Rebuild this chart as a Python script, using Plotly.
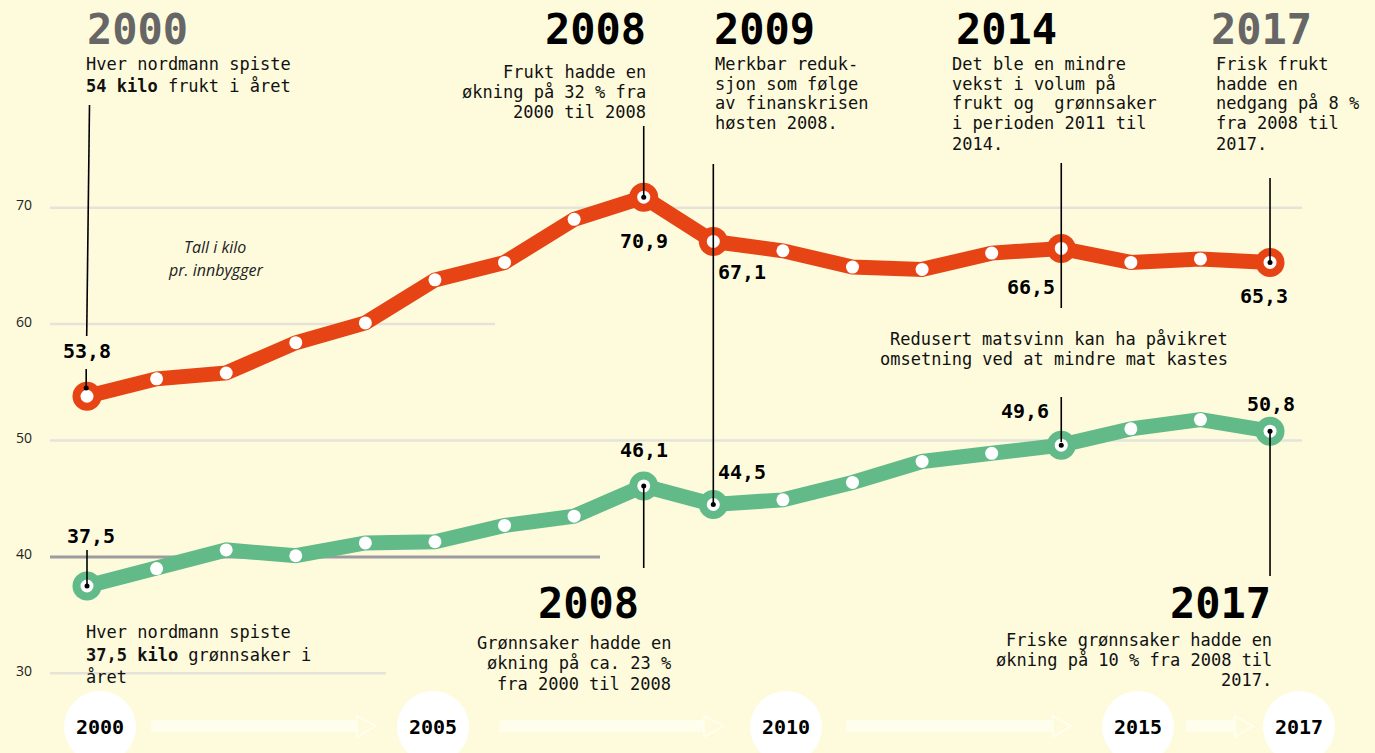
import plotly.graph_objects as go

# ---------------- DATA ----------------
years = list(range(2000, 2018))
frukt = [53.8, 55.3, 55.8, 58.4, 60.1, 63.8, 65.3, 69.0, 70.9, 67.1,
         66.3, 64.9, 64.7, 66.1, 66.5, 65.3, 65.6, 65.3]
gronnsaker = [37.5, 39.0, 40.6, 40.1, 41.2, 41.3, 42.7, 43.5, 46.1, 44.5,
              44.9, 46.4, 48.2, 48.9, 49.6, 51.0, 51.8, 50.8]
highlight_years = [2000, 2008, 2009, 2014, 2017]
ytick_values = [30, 40, 50, 60, 70]
timeline_labels = ["2000", "2005", "2010", "2015", "2017"]

# ---------------- STYLE / LAYOUT ----------------
W, H = 1375, 753
BG = "#FEFBDD"
ORANGE = "#E64414"
GREEN = "#61BA88"
MONO = "DejaVu Sans Mono"
# pixel mapping of the axes (x: 2000 -> 87px, 69.59 px/yr; y: 70 -> 207.7px, 11.64 px/unit)
X_PX0, X_STEP = 87.0, 69.59
Y_PX70, Y_STEP = 207.7, 11.64
x_lo = 2000 - X_PX0 / X_STEP
x_hi = x_lo + W / X_STEP
y_hi = 70 + Y_PX70 / Y_STEP
y_lo = 70 - (H - Y_PX70) / Y_STEP


def px2val(py):
    return 70 - (py - Y_PX70) / Y_STEP


def PX(x):
    return x / W


def PY(y):
    return 1 - y / H


fig = go.Figure()

# lines
fig.add_trace(go.Scatter(x=years, y=frukt, mode="lines",
                         line=dict(color=ORANGE, width=15), hoverinfo="skip"))
fig.add_trace(go.Scatter(x=years, y=gronnsaker, mode="lines",
                         line=dict(color=GREEN, width=15), hoverinfo="skip"))

# rings at highlighted years
for series, col in ((frukt, ORANGE), (gronnsaker, GREEN)):
    hv = [series[years.index(y)] for y in highlight_years]
    fig.add_trace(go.Scatter(x=highlight_years, y=hv, mode="markers",
                             marker=dict(size=29, color=col), hoverinfo="skip"))
# white dots
for series in (frukt, gronnsaker):
    fig.add_trace(go.Scatter(x=years, y=series, mode="markers",
                             marker=dict(size=13, color="white"), hoverinfo="skip"))

shapes = []
annotations = []


def ann(**kw):
    kw.setdefault("showarrow", False)
    kw.setdefault("xanchor", "center")
    kw.setdefault("yanchor", "middle")
    annotations.append(kw)


# gridlines
grid_ext = {70: 1302, 60: 495, 50: 1302, 40: 600, 30: 386}
for v in ytick_values:
    col, w = ("#9C9CA0", 3) if v == 40 else ("#E5E3D8", 2.5)
    shapes.append(dict(type="line", xref="paper", yref="y", layer="below",
                       x0=PX(50), x1=PX(grid_ext[v]), y0=v, y1=v,
                       line=dict(color=col, width=w)))
    ann(xref="paper", yref="y", x=PX(24), y=v, yshift=3, text=str(v),
        font=dict(family="Open Sans", size=14, color="#222"))


def fmt(v):
    return f"{v:.1f}".replace(".", ",")


# leader lines (x in years, y ends in pixels)
leaders = [
    (2000 + (89.5 - 87) / X_STEP, 2000 - 0.3 / X_STEP, 105, 336),
    (2000 - 0.8 / X_STEP, 2000 - 0.8 / X_STEP, 369, 388),
    (2008, 2008, 126, 197),
    (2009, 2009, 164, 504),
    (2014, 2014, 163, 308),
    (2017, 2017, 178, 262),
    (2000, 2000, 550, 584),
    (2008, 2008, 486, 568),
    (2014, 2014, 397, 442),
    (2017, 2017, 432, 576),
]
for xa, xb, ya, yb in leaders:
    shapes.append(dict(type="line", xref="x", yref="y", x0=xa, x1=xb,
                       y0=px2val(ya), y1=px2val(yb),
                       line=dict(color="#000", width=1.6)))

# black dots where leaders meet the points
dot_x = [2000 - 0.8 / X_STEP, 2008, 2017, 2000, 2008, 2009, 2014, 2017]
dot_y = [px2val(388), frukt[8], frukt[17], gronnsaker[0], gronnsaker[8],
         gronnsaker[9], gronnsaker[14], gronnsaker[17]]
fig.add_trace(go.Scatter(x=dot_x, y=dot_y, mode="markers",
                         marker=dict(size=5, color="#000"), hoverinfo="skip"))

# value labels (offsets in px)
label_off_f = {2000: (0, 45), 2008: (0, -44), 2009: (29, -31), 2014: (-30, -39), 2017: (-6, -34)}
label_off_g = {2000: (4, 50), 2008: (0, 36), 2009: (29, 33), 2014: (-36, 34), 2017: (1, 27)}
for series, offs in ((frukt, label_off_f), (gronnsaker, label_off_g)):
    for yr in highlight_years:
        v = series[years.index(yr)]
        dx, dy = offs[yr]
        ann(xref="x", yref="y", x=yr, y=v, xshift=dx, yshift=dy,
            text=f"<b>{fmt(v)}</b>",
            font=dict(family=MONO, size=20, color="#000"))

# headings
headings = [
    ("2000", 85, 30, "left", "#666666"),
    ("2008", 648, 30, "right", "#000"),
    ("2009", 712, 30, "left", "#000"),
    ("2014", 954, 30, "left", "#000"),
    ("2017", 1209, 30, "left", "#666666"),
    ("2008", 641, 603, "right", "#000"),
    ("2017", 1273, 603, "right", "#000"),
]
for t, x, y, al, col in headings:
    ann(xref="paper", yref="paper", x=PX(x), y=PY(y), xanchor=al,
        text=f"<b>{t}</b>", font=dict(family=MONO, size=42, color=col))

# body text blocks: (lines, x, first_line_center_y, spacing, align)
blocks = [
    (["Hver nordmann spiste", "<b>54 kilo</b> frukt i året"], 84, 63.5, 22.5, "left"),
    (["Frukt hadde en", "økning på 32 % fra", "2000 til 2008"], 648, 71.5, 20.3, "right"),
    (["Merkbar reduk-", "sjon som følge", "av finanskrisen", "høsten 2008."], 713, 63.5, 20, "left"),
    (["Det ble en mindre", "vekst i volum på", "frukt og  grønnsaker",
      "i perioden 2011 til", "2014."], 950, 63.5, 20, "left"),
    (["Frisk frukt", "hadde en", "nedgang på 8 %", "fra 2008 til", "2017."], 1214, 63.5, 20, "left"),
    (["Redusert matsvinn kan ha påvikret", "omsetning ved at mindre mat kastes"], 1230, 339, 20, "right"),
    (["Hver nordmann spiste", "<b>37,5 kilo</b> grønnsaker i", "året"], 84, 632, 22.5, "left"),
    (["Grønnsaker hadde en", "økning på ca. 23 %", "fra 2000 til 2008"], 673, 643, 20.3, "right"),
    (["Friske grønnsaker hadde en", "økning på 10 % fra 2008 til", "2017."], 1274, 640, 20, "right"),
]
for lines, x, y0, sp, al in blocks:
    for i, ln in enumerate(lines):
        ann(xref="paper", yref="paper", x=PX(x), y=PY(y0 + i * sp), xanchor=al,
            text=ln, font=dict(family=MONO, size=17, color="#111"))

# unit note
for i, t in enumerate(["Tall i kilo", "pr. innbygger"]):
    ann(xref="paper", yref="paper", x=PX(215), y=PY(247 + i * 23),
        text=f"<i>{t}</i>", font=dict(family="Open Sans", size=16, color="#222"))

# timeline at bottom
tl_px = [100, 433, 786, 1138, 1299]
R, CY = 36, 727
arrows = [(151, 357, 376), (499, 704, 724), (846, 1053, 1071), (1186, 1235, 1253)]
for x0, x1, xt in arrows:
    shapes.append(dict(type="rect", xref="paper", yref="paper",
                       x0=PX(x0), x1=PX(x1), y0=PY(732), y1=PY(720),
                       fillcolor="#FFFDEC", line=dict(width=0), layer="below"))
    path = f"M {PX(x1)},{PY(716)} L {PX(xt)},{PY(726)} L {PX(x1)},{PY(737)} Z"
    shapes.append(dict(type="path", xref="paper", yref="paper", path=path,
                       fillcolor="rgba(0,0,0,0)", line=dict(color="#FFFFF5", width=1.2),
                       layer="below"))
for lab, cx in zip(timeline_labels, tl_px):
    shapes.append(dict(type="circle", xref="paper", yref="paper",
                       x0=PX(cx - R), x1=PX(cx + R), y0=PY(CY + R), y1=PY(CY - R),
                       fillcolor="white", line=dict(width=0), layer="below"))
    ann(xref="paper", yref="paper", x=PX(cx), y=PY(CY),
        text=f"<b>{lab}</b>", font=dict(family=MONO, size=20, color="#000"))

fig.update_layout(
    width=W, height=H,
    margin=dict(l=0, r=0, t=0, b=0),
    paper_bgcolor=BG, plot_bgcolor=BG,
    showlegend=False,
    xaxis=dict(range=[x_lo, x_hi], visible=False, fixedrange=True),
    yaxis=dict(range=[y_lo, y_hi], visible=False, fixedrange=True),
    shapes=shapes, annotations=annotations,
)

fig.write_html("out.html", config={"displayModeBar": False},
               post_script="document.body.style.margin='0';document.body.style.overflow='hidden';")
